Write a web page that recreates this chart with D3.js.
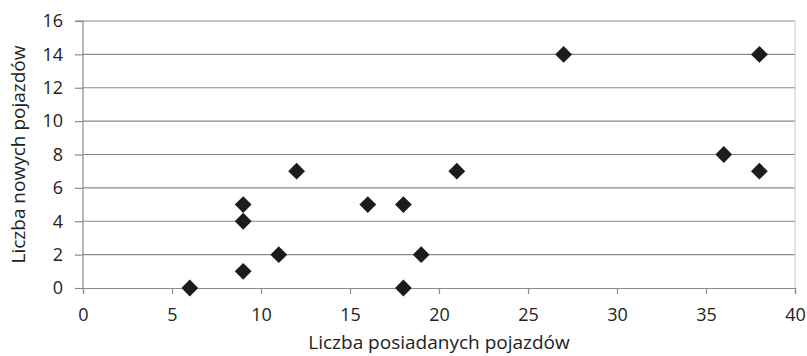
<!DOCTYPE html>
<html>
<head>
<meta charset="utf-8">
<script src="https://cdn.jsdelivr.net/npm/d3@7"></script>
<style>
  body { margin: 0; background: #fff; }
  svg text { font-family: "Open Sans", sans-serif; fill: #222; }
</style>
</head>
<body>
<svg id="chart" width="807" height="356"></svg>
<script>
// data
const posiadane = [6, 9, 9, 9, 11, 12, 16, 18, 18, 19, 21, 27, 36, 38, 38];
const nowe = [0, 1, 4, 5, 2, 7, 5, 5, 0, 2, 7, 14, 8, 14, 7];
const xTicks = [0, 5, 10, 15, 20, 25, 30, 35, 40];
const yTicks = [0, 2, 4, 6, 8, 10, 12, 14, 16];

const margin = { left: 83, right: 12, top: 21, bottom: 68 };
const width = 807;
const height = 356;

const svg = d3.select('#chart');

const x = d3.scaleLinear().domain([0, 40]).range([margin.left, width - margin.right]);
const y = d3.scaleLinear().domain([0, 16]).range([height - margin.bottom, margin.top]);

// gridlines
svg.append('g')
  .selectAll('line')
  .data(yTicks.filter((d) => d > 0))
  .enter()
  .append('line')
  .attr('x1', x(0))
  .attr('x2', x(40))
  .attr('y1', (d) => y(d))
  .attr('y2', (d) => y(d))
  .attr('stroke', '#8a8a8a')
  .attr('stroke-width', 1.2);

// right border of plot area
svg.append('line')
  .attr('x1', x(40)).attr('x2', x(40))
  .attr('y1', y(16)).attr('y2', y(0))
  .attr('stroke', '#c8c8c8');

// axes
const yAxis = svg.append('g')
  .attr('transform', `translate(${x(0)},0)`)
  .call(d3.axisLeft(y).tickValues(yTicks).tickSize(8).tickPadding(6));

const xAxis = svg.append('g')
  .attr('transform', `translate(0,${y(0)})`)
  .call(d3.axisBottom(x).tickValues(xTicks).tickSize(6).tickPadding(6));

[xAxis, yAxis].forEach((a) => {
  a.select('.domain').attr('stroke', '#8a8a8a').attr('stroke-width', 1.2);
  a.selectAll('.tick line').attr('stroke', '#8a8a8a').attr('stroke-width', 1.2);
  a.selectAll('text')
    .attr('font-size', 18)
    .attr('fill', '#222')
    .style('font-family', '"Open Sans", sans-serif');
});
yAxis.select('.domain').attr('d', `M-8,${y(16)}H0V${y(0)}`);
yAxis.selectAll('.tick text').attr('x', -20);
xAxis.selectAll('.tick text').attr('y', 20).attr('dy', '0.71em');

// points
svg.append('g')
  .selectAll('path')
  .data(posiadane.map((v, i) => [v, nowe[i]]))
  .enter()
  .append('path')
  .attr('d', d3.symbol().type(d3.symbolDiamond2).size(180))
  .attr('transform', ([a, b]) => `translate(${x(a)},${y(b)})`)
  .attr('fill', '#1c1c1c');

// titles
svg.append('text')
  .attr('x', 439)
  .attr('y', 349)
  .attr('text-anchor', 'middle')
  .attr('font-size', 19)
  .text('Liczba posiadanych pojazdów');

svg.append('text')
  .attr('transform', `translate(25,${y(8)}) rotate(-90)`)
  .attr('text-anchor', 'middle')
  .attr('font-size', 19)
  .text('Liczba nowych pojazdów');
</script>
</body>
</html>
